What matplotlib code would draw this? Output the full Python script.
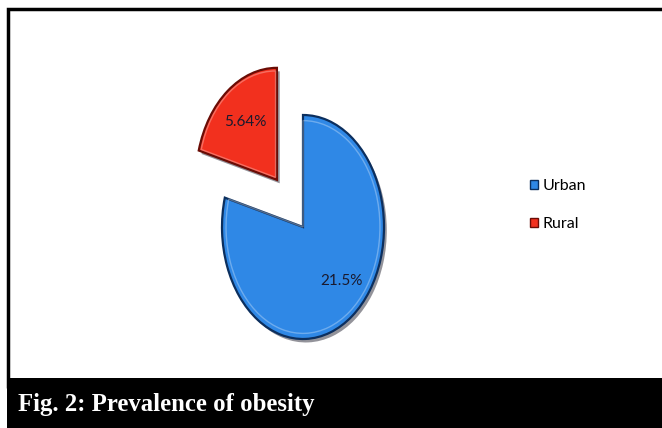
import matplotlib
matplotlib.use('Agg')
import matplotlib.pyplot as plt
import matplotlib.patheffects as pe
from matplotlib.patches import Rectangle

# 肥胖患病率（%）
labels = ['Rural', 'Urban']
values = [5.64, 21.5]
colors = ['#F2301E', '#2F88E6']
edges = ['#6A0C05', '#0C2F5E']
explode = [0.53, 0.0]
legend_order = ['Urban', 'Rural']

W, H = 662, 428
fig = plt.figure(figsize=(W / 100, H / 100), dpi=100)
fig.patch.set_facecolor('white')

# 外框 + 底部标题栏
fig.add_artist(Rectangle((8 / W, 40 / H), 1.2, 1 - 49 / H, transform=fig.transFigure,
                         fill=False, edgecolor='black', linewidth=2.5))
fig.add_artist(Rectangle((7 / W, 0), 1, 50 / H, transform=fig.transFigure,
                         facecolor='black', edgecolor='none'))
fig.text(18 / W, 24 / H, 'Fig. 2: Prevalence of obesity', color='white',
         fontsize=17.8, fontweight='bold', family='Liberation Serif', va='center', ha='left')

# 饼图（纵向拉伸，模拟倾斜的立体效果）
ax = fig.add_axes([(303 - 121.5) / W, (428 - 227 - 168) / H, 243 / W, 336 / H])
wedges, texts, autotexts = ax.pie(
    values, explode=explode, colors=colors, startangle=90, counterclock=True,
    autopct=lambda p: '', pctdistance=0.65,
    wedgeprops=dict(edgecolor='none', linewidth=0))
for w, ec in zip(wedges, edges):
    w.set_edgecolor(ec)
    w.set_linewidth(1.6)
    w.set_path_effects([pe.SimplePatchShadow(offset=(2, -2.5), shadow_rgbFace='#101020', alpha=0.45),
                        pe.Normal()])

# 边缘高光
hl, _ = ax.pie(values, explode=[e / 0.95 for e in explode], radius=0.95, startangle=90,
               colors=['none', 'none'],
               wedgeprops=dict(edgecolor='white', linewidth=1.0, alpha=0.3))

# 数值标签
for t, v in zip(autotexts, values):
    t.set_text(f'{v}%')
    t.set_fontsize(11)
    t.set_family('Lato')
    t.set_color('#1A1A2E')
autotexts[1].set_position((0.48, -0.48))

ax.set_aspect('auto')
ax.set_xlim(-1.5, 1.5)
ax.set_ylim(-1.5, 1.5)
ax.axis('off')

handles = {l: w for l, w in zip(labels, wedges)}
leg = fig.legend([handles[l] for l in legend_order], legend_order, loc='center left',
                 bbox_to_anchor=(516 / W, (428 - 205) / H), frameon=False,
                 handlelength=0.5, handleheight=0.55, handletextpad=0.25,
                 labelspacing=1.5, prop=dict(family='Lato', size=11.5))
for h in leg.legend_handles:
    h.set_linewidth(1.0)
    h.set_path_effects([])

fig.savefig('out.png', dpi=100)
